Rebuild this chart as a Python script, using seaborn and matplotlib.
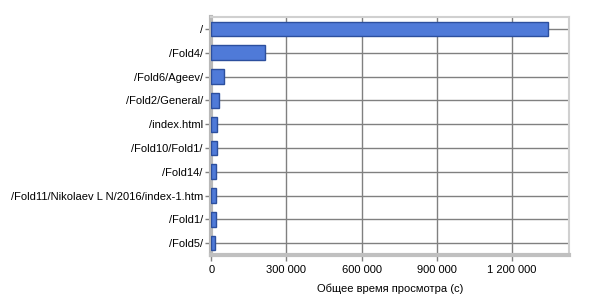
import matplotlib
matplotlib.use("Agg")
import matplotlib.pyplot as plt
import seaborn as sns
import pandas as pd
from matplotlib.ticker import FuncFormatter

pages = ["/", "/Fold4/", "/Fold6/Ageev/", "/Fold2/General/", "/index.html",
         "/Fold10/Fold1/", "/Fold14/", "/Fold11/Nikolaev L N/2016/index-1.htm",
         "/Fold1/", "/Fold5/"]
seconds = [1342000, 215000, 51000, 33000, 25000, 22000, 21000, 21000, 18000, 17000]
x_ticks = [0, 300000, 600000, 900000, 1200000]
x_label = "Общее время просмотра (с)"

df = pd.DataFrame({"page": pages, "sec": seconds})

sns.set_theme(style="white")
plt.rcParams["font.family"] = ["Liberation Sans", "DejaVu Sans"]

fig = plt.figure(figsize=(6, 3), dpi=100)
ax = fig.add_axes([0.352, 0.15, 0.596, 0.793])

sns.barplot(data=df, x="sec", y="page", orient="h", color="#4f7ad8",
            saturation=1, width=0.62, edgecolor="#2c4f9e", linewidth=1.0,
            ax=ax, zorder=3)

ax.set_xlim(0, 1426000)
ax.set_ylim(9.5, -0.5)
ax.set_xticks(x_ticks)
ax.xaxis.set_major_formatter(FuncFormatter(lambda v, p: f"{int(v):,}".replace(",", " ")))
ax.grid(True, axis="both", color="#808080", linewidth=1.0, zorder=0)
ax.set_axisbelow(True)

for side in ["top", "right"]:
    ax.spines[side].set_color("#d0d0d0")
    ax.spines[side].set_linewidth(1.5)
ax.spines["left"].set_color("#b8b8b8")
ax.spines["left"].set_linewidth(3)
ax.spines["bottom"].set_color("#c0c0c0")
ax.spines["bottom"].set_linewidth(3)

ax.tick_params(axis="y", left=True, length=4, width=1, color="#808080",
               labelsize=8, pad=2, labelcolor="black")
ax.tick_params(axis="x", bottom=True, length=4, width=1, color="#808080",
               labelsize=8, pad=3, labelcolor="black")
ax.set_ylabel("")
ax.set_xlabel(x_label, fontsize=8, labelpad=6, color="black")

fig.savefig("out.png", dpi=100, facecolor="white")
